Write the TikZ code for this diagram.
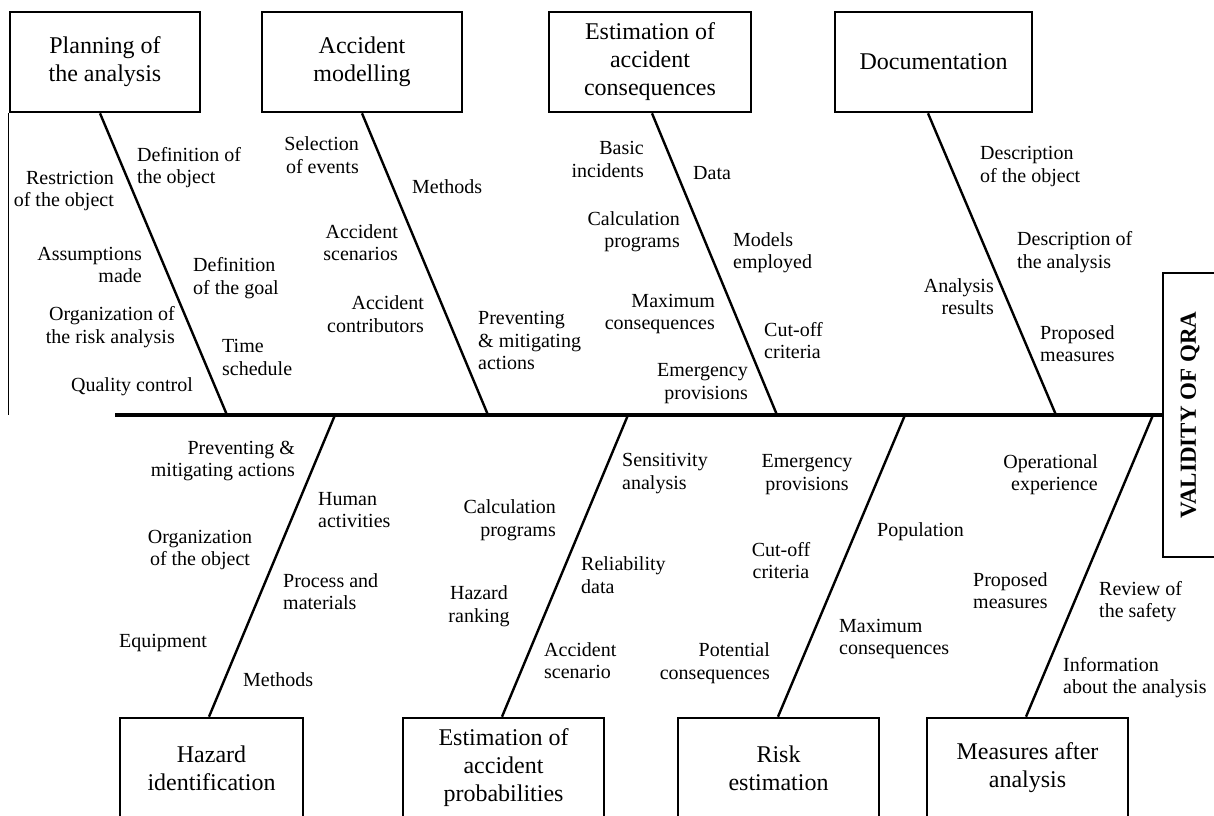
\documentclass[tikz,border=0pt]{standalone}
\usepackage{fontspec}
\setmainfont{Liberation Serif}
\begin{document}
\begin{tikzpicture}[x=1pt,y=-1pt,
  box/.style={draw, line width=2.6pt, inner sep=0pt, align=center, font=\fontsize{24}{28}\selectfont},
  lab/.style={inner sep=0pt, font=\fontsize{20}{22.5}\selectfont},
  labR/.style={lab, anchor=east, align=right},
  labL/.style={lab, anchor=west, align=left},
  labC/.style={lab, align=center},
  bone/.style={line width=2.4pt},
  spine/.style={line width=3.2pt}]
\useasboundingbox (0,0) rectangle (1214,815);
\fill[white] (0,0) rectangle (1214,815);
\clip (0,0) rectangle (1214,815);

% top boxes
\node[box, minimum width=190pt, minimum height=100pt] (b1) at (105,62) {Planning of\\the analysis};
\node[box, minimum width=200pt, minimum height=100pt] (b2) at (362,62) {Accident\\modelling};
\node[box, minimum width=202pt, minimum height=100pt] (b3) at (650,62) {Estimation of\\accident\\consequences};
\node[box, minimum width=197pt, minimum height=100pt] (b4) at (933.5,62) {Documentation};
% bottom boxes
\node[box, minimum width=183pt, minimum height=100pt] (b5) at (211.5,768) {Hazard\\identification};
\node[box, minimum width=201pt, minimum height=100pt] (b6) at (503.5,768) {Estimation of\\accident\\probabilities};
\node[box, minimum width=201pt, minimum height=100pt] (b7) at (778.5,768) {Risk\\estimation};
\node[box, minimum width=201pt, minimum height=100pt] (b8) at (1027.5,768) {Measures after\\analysis};
% head box
\node[box, minimum width=62pt, minimum height=284pt] (qra) at (1194,415) {};
\node[inner sep=0pt, rotate=90, font=\fontsize{23}{27}\selectfont\bfseries] (qrat) at (1190,415) {VALIDITY OF QRA};

% spine
\coordinate (s0) at (115,415);
\draw[spine] (s0) -- (qra.west);
\draw[line width=1pt] (b1.south west) -- (b1.south west |- s0);

% junctions
\coordinate (j1) at (227,415);
\coordinate (j2) at (488,415);
\coordinate (j3) at (777,415);
\coordinate (j4) at (1056,415);
\coordinate (j5) at (335,415);
\coordinate (j6) at (628,415);
\coordinate (j7) at (905,415);
\coordinate (j8) at (1153,415);

\draw[bone] ([xshift=-5pt]b1.south) -- (j1);
\draw[bone] (b2.south) -- (j2);
\draw[bone] ([xshift=2pt]b3.south) -- (j3);
\draw[bone] ([xshift=-5.5pt]b4.south) -- (j4);
\draw[bone] (j5) -- ([xshift=-2.5pt]b5.north);
\draw[bone] (j6) -- ([xshift=-1.5pt]b6.north);
\draw[bone] (j7) -- ([xshift=-0.5pt]b7.north);
\draw[bone] (j8) -- ([xshift=-1.5pt]b8.north);

% labels: Planning of the analysis
\node[labL] (p1) at (137,167.5) {Definition of\\the object};
\node[labR] (p2) at (114,191) {Restriction\\of the object};
\node[labR] (p3) at (142,265) {Assumptions\\made};
\node[labL] (p4) at (193,278) {Definition\\of the goal};
\node[labR] (p5) at (175,327) {Organization of\\the risk analysis};
\node[labL] (p6) at (222,357.5) {Time\\schedule};
\node[labR] (p7) at (193,387) {Quality control};

% Accident modelling
\node[labR] (m1) at (359,155) {Selection\\of events};
\node[labL] (m2) at (412,187) {Methods};
\node[labR] (m3) at (398,242.5) {Accident\\scenarios};
\node[labR] (m4) at (424,314) {Accident\\contributors};
\node[labL] (m5) at (478,340.5) {Preventing\\\& mitigating\\actions};

% Estimation of accident consequences
\node[labR] (c1) at (644,159.5) {Basic\\incidents};
\node[labL] (c2) at (693,173) {Data};
\node[labR] (c3) at (680,231.5) {Calculation\\programs};
\node[labL] (c4) at (733,252.5) {Models\\employed};
\node[labR] (c5) at (715,314) {Maximum\\consequences};
\node[labL] (c6) at (764,340.5) {Cut-off\\criteria};
\node[labR] (c7) at (748,383.5) {Emergency\\provisions};

% Documentation
\node[labL] (d1) at (980,166.5) {Description\\of the object};
\node[labL] (d2) at (1017,252) {Description of\\the analysis};
\node[labR] (d3) at (994,296.5) {Analysis\\results};
\node[labL] (d4) at (1040,343.5) {Proposed\\measures};

% Hazard identification
\node[labR] (h1) at (295,461) {Preventing \&\\mitigating actions};
\node[labL] (h2) at (318,510) {Human\\activities};
\node[labC] (h3) at (200,550) {Organization\\of the object};
\node[labL] (h4) at (283,591.5) {Process and\\materials};
\node[labL] (h5) at (119,643) {Equipment};
\node[labL] (h6) at (243,680) {Methods};

% Estimation of accident probabilities
\node[labL] (e1) at (622,473.5) {Sensitivity\\analysis};
\node[labR] (e2) at (556,520) {Calculation\\programs};
\node[labL] (e3) at (581,575) {Reliability\\data};
\node[labC] (e4) at (479,606) {Hazard\\ranking};
\node[labL] (e5) at (544,660.5) {Accident\\scenario};

% Risk estimation
\node[labC] (r1) at (807,474.5) {Emergency\\provisions};
\node[labC] (r2) at (781,560.5) {Cut-off\\criteria};
\node[labR] (r3) at (770,663) {Potential\\consequences};
\node[labL] (r4) at (877,532) {Population};
\node[labL] (r5) at (839,639) {Maximum\\consequences};

% Measures after analysis
\node[labR] (a1) at (1098,474.5) {Operational\\experience};
\node[labL] (a2) at (973,590.5) {Proposed\\measures};
\node[labL] (a3) at (1099,601.5) {Review of\\the safety};
\node[labL] (a4) at (1063,677.5) {Information\\about the analysis};
\end{tikzpicture}
\end{document}
